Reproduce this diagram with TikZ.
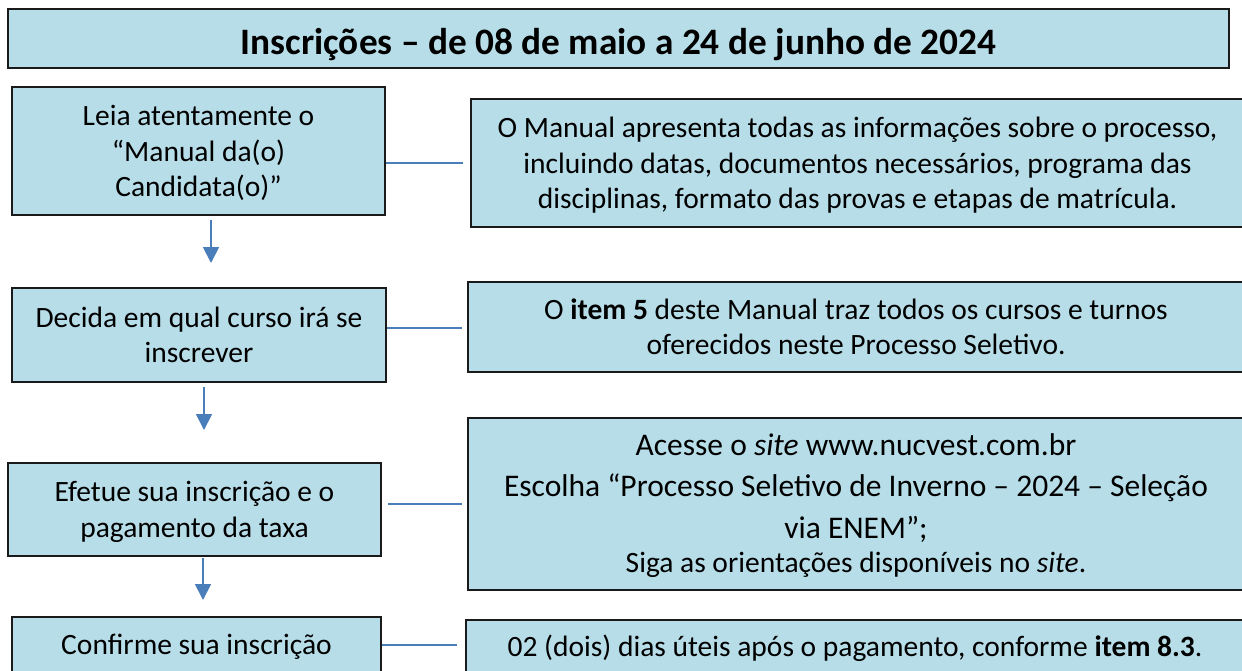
\documentclass[tikz,border=0pt]{standalone}
\usepackage{fontspec}
\setmainfont{Carlito}
\usetikzlibrary{arrows.meta}
\definecolor{boxfill}{HTML}{B7DDE8}
\definecolor{connblue}{HTML}{4A7EBB}
\definecolor{boxline}{HTML}{1A1A1A}
\newcommand{\tb}[2]{\parbox[t]{#1}{\centering #2}}
\begin{document}
\begin{tikzpicture}[x=1pt,y=-1pt,
  box/.style={draw=boxline, line width=2pt, fill=boxfill, align=center,
    inner sep=0pt, font=\fontsize{29.5}{35.5}\selectfont, text height=28.1pt},
  one/.style={text depth=7.9pt},
  two/.style={text depth=43.4pt},
  three/.style={text depth=78.9pt},
  titlebox/.style={box, font=\fontsize{37.3}{44}\selectfont\bfseries,
    text height=34pt, text depth=3pt},
  conn/.style={draw=connblue, line width=1.8pt},
  flow/.style={draw=connblue, line width=1.8pt,
    -{Triangle[length=16pt,width=16pt]}}]
\useasboundingbox (0,0) rectangle (1242,670);
\clip (0,0) rectangle (1242,670);

% title
\node[titlebox, minimum width=1221pt, minimum height=59pt] (title) at (618.5,38.5)
  {Inscrições – de 08 de maio a 24 de junho de 2024};

% left column
\node[box, three, minimum width=373pt, minimum height=128pt] (l1) at (198.5,151)
  {\tb{360pt}{Leia atentamente o\\“Manual da(o)\\Candidata(o)”}};
\node[box, two, minimum width=374pt, minimum height=94pt] (l2) at (199,335)
  {\tb{360pt}{Decida em qual curso irá se\\inscrever}};
\node[box, two, minimum width=373pt, minimum height=93pt] (l3) at (194.5,509.5)
  {\tb{360pt}{Efetue sua inscrição e o\\pagamento da taxa}};
\node[box, one, minimum width=369pt, minimum height=55pt] (l4) at (196.5,644.5)
  {\tb{360pt}{Confirme sua inscrição}};

% right column
\node[box, three, minimum width=773pt, minimum height=128pt] (r1) at (857.5,163)
  {\tb{760pt}{O Manual apresenta todas as informações sobre o processo,\\
   incluindo datas, documentos necessários, programa das\\
   disciplinas, formato das provas e etapas de matrícula.}};
\node[box, two, minimum width=776pt, minimum height=90pt] (r2) at (856,327)
  {\tb{760pt}{O \textbf{item 5} deste Manual traz todos os cursos e turnos\\
   oferecidos neste Processo Seletivo.}};
\node[box, minimum width=776pt, minimum height=172pt,
      font=\fontsize{31.5}{41.5}\selectfont, text height=33pt, text depth=130.4pt] (r3) at (856,504)
  {\tb{760pt}{Acesse o \textit{site} www.nucvest.com.br\\
   Escolha “Processo Seletivo de Inverno – 2024 – Seleção\\
   via ENEM”;\\[-7pt]
   {\fontsize{29.5}{35.5}\selectfont Siga as orientações disponíveis no \textit{site}.}}};
\node[box, one, minimum width=778pt, minimum height=52pt] (r4) at (855,646)
  {\tb{760pt}{02 (dois) dias úteis após o pagamento, conforme \textbf{item 8.3}.}};

% horizontal connectors
\draw[conn] (l1.east |- r1.west) -- ([xshift=-7pt]r1.west);
\draw[conn] ([yshift=-1pt]l2.east |- r2.west) -- ([xshift=-5pt,yshift=-1pt]r2.west);
\draw[conn] ([xshift=6pt]l3.east |- r3.west) -- ([xshift=-5pt]r3.west);
\draw[conn] ([yshift=1pt]l4.east |- r4.west) -- ([xshift=-8pt,yshift=1pt]r4.west);

% vertical arrows
\coordinate (t1) at (211,263);
\coordinate (t2) at (204,430);
\coordinate (t3) at (203,600);
\draw[flow] ([yshift=-4pt]t1 |- l1.south) -- (t1);
\draw[flow] ([yshift=-4pt]t2 |- l2.south) -- (t2);
\draw[flow] ([yshift=-1pt]t3 |- l3.south) -- (t3);
\end{tikzpicture}
\end{document}
